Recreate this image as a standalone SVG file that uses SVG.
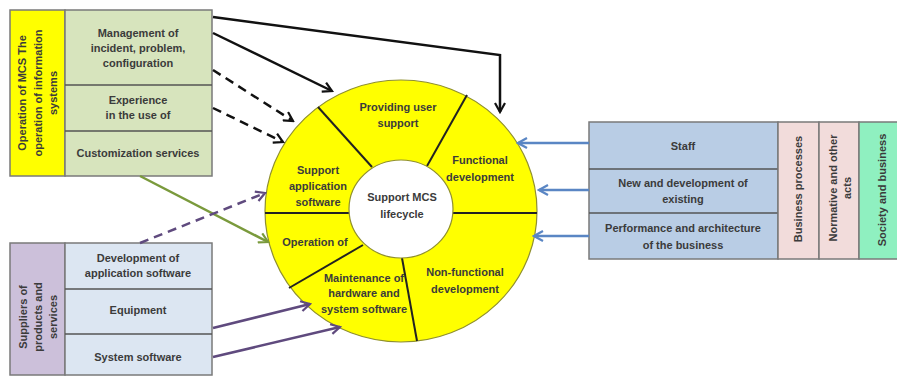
<svg xmlns="http://www.w3.org/2000/svg" width="897" height="377" viewBox="0 0 897 377">
<style>
text{font-family:"Liberation Sans",Arial,sans-serif;font-weight:bold;fill:#3b3b3b;text-anchor:middle}
.b{font-size:11px}
.c{font-size:11px}
.box{stroke:#7a7a7a;stroke-width:1.5}
.div{stroke:#555;stroke-width:1.5;fill:none}
.seg{stroke:#222;stroke-width:2;fill:none}
.blk{stroke:#111;stroke-width:2.5;fill:none}
.dash{stroke-dasharray:9 6}
.grn{stroke:#7a9a3c;stroke-width:2.5;fill:none}
.pur{stroke:#5f4a7e;stroke-width:2.5;fill:none}
.blu{stroke:#5a86c4;stroke-width:2.5;fill:none}
</style>
<defs>
<marker id="ak" viewBox="0 0 12 12" markerWidth="12" markerHeight="12" refX="10" refY="6" orient="auto" markerUnits="userSpaceOnUse"><path d="M1,1 L10,6 L1,11" fill="none" stroke="#111" stroke-width="2.2"/></marker>
<marker id="ag" viewBox="0 0 12 12" markerWidth="12" markerHeight="12" refX="10" refY="6" orient="auto" markerUnits="userSpaceOnUse"><path d="M1,1 L10,6 L1,11" fill="none" stroke="#7a9a3c" stroke-width="2.2"/></marker>
<marker id="ap" viewBox="0 0 12 12" markerWidth="12" markerHeight="12" refX="10" refY="6" orient="auto" markerUnits="userSpaceOnUse"><path d="M1,1 L10,6 L1,11" fill="none" stroke="#5f4a7e" stroke-width="2.2"/></marker>
<marker id="ab" viewBox="0 0 12 12" markerWidth="12" markerHeight="12" refX="10" refY="6" orient="auto" markerUnits="userSpaceOnUse"><path d="M1,1 L10,6 L1,11" fill="none" stroke="#5a86c4" stroke-width="2.2"/></marker>
</defs>
<rect width="897" height="377" fill="#fff"/>

<g id="operation-box">
<rect x="10" y="10" width="55" height="166" fill="#ffff00" class="box"/>
<rect x="65" y="10" width="147" height="166" fill="#d7e4bd" class="box"/>
<line x1="65" y1="85" x2="212" y2="85" class="div"/>
<line x1="65" y1="131" x2="212" y2="131" class="div"/>
<text class="b" transform="translate(26,93) rotate(-90)">Operation of MCS The</text>
<text class="b" transform="translate(41.5,93) rotate(-90)">operation of information</text>
<text class="b" transform="translate(57,93) rotate(-90)">systems</text>
<text class="b" x="138" y="37">Management of</text>
<text class="b" x="138" y="52">incident, problem,</text>
<text class="b" x="138" y="67">configuration</text>
<text class="b" x="138" y="104">Experience</text>
<text class="b" x="138" y="119">in the use of</text>
<text class="b" x="138" y="157">Customization services</text>
</g>

<g id="suppliers-box">
<rect x="10" y="243" width="55" height="132" fill="#ccc0da" class="box"/>
<rect x="65" y="243" width="147" height="132" fill="#dce6f2" class="box"/>
<line x1="65" y1="289" x2="212" y2="289" class="div"/>
<line x1="65" y1="334" x2="212" y2="334" class="div"/>
<text class="b" transform="translate(27,317) rotate(-90)">Suppliers of</text>
<text class="b" transform="translate(42,317) rotate(-90)">products and</text>
<text class="b" transform="translate(57,317) rotate(-90)">services</text>
<text class="b" x="138" y="262">Development of</text>
<text class="b" x="138" y="277">application  software</text>
<text class="b" x="138" y="314">Equipment</text>
<text class="b" x="138" y="361">System software</text>
</g>

<g id="business-box">
<rect x="589" y="122" width="189" height="137" fill="#b9cde5" class="box"/>
<line x1="589" y1="169" x2="778" y2="169" class="div"/>
<line x1="589" y1="213" x2="778" y2="213" class="div"/>
<rect x="778" y="122" width="41" height="137" fill="#f2dcdb" class="box"/>
<rect x="819" y="122" width="40" height="137" fill="#f2dcdb" class="box"/>
<rect x="859" y="122" width="40" height="137" fill="#8ff0c0" class="box"/>
<text class="b" x="683" y="150">Staff</text>
<text class="b" x="683" y="187">New and development of</text>
<text class="b" x="683" y="203">existing</text>
<text class="b" x="683" y="232">Performance and architecture</text>
<text class="b" x="683" y="249">of the business</text>
<text class="b" transform="translate(802,189) rotate(-90)">Business processes</text>
<text class="b" transform="translate(837,188) rotate(-90)">Normative and other</text>
<text class="b" transform="translate(851,188) rotate(-90)">acts</text>
<text class="b" transform="translate(886,190) rotate(-90)">Society and business</text>
</g>

<g id="lifecycle-circle">
<ellipse cx="401" cy="211" rx="136" ry="131" fill="#ffff00" stroke="#8f8f30" stroke-width="1.2"/>
<line x1="265" y1="213" x2="350" y2="213" class="seg"/>
<line x1="452" y1="213" x2="537" y2="213" class="seg"/>
<line x1="318" y1="107" x2="372" y2="167" class="seg"/>
<line x1="467" y1="95" x2="427" y2="166" class="seg"/>
<line x1="289" y1="288" x2="363" y2="245" class="seg"/>
<line x1="402" y1="258" x2="417" y2="341" class="seg"/>
<ellipse cx="401" cy="209" rx="52" ry="49" fill="#fff" stroke="#8f8f30" stroke-width="1.2"/>
<text class="c" x="398" y="111">Providing user</text>
<text class="c" x="398" y="127">support</text>
<text class="c" x="480" y="164">Functional</text>
<text class="c" x="480" y="181">development</text>
<text class="c" x="318" y="174">Support</text>
<text class="c" x="318" y="190">application</text>
<text class="c" x="318" y="206">software</text>
<text class="c" x="402" y="201">Support MCS</text>
<text class="c" x="402" y="218">lifecycle</text>
<text class="c" x="315" y="246">Operation of</text>
<text class="c" x="364" y="282">Maintenance of</text>
<text class="c" x="364" y="297">hardware and</text>
<text class="c" x="364" y="313">system software</text>
<text class="c" x="465" y="276">Non-functional</text>
<text class="c" x="465" y="293">development</text>
</g>

<g id="connectors">
<polyline points="213,17 500,55 500,112" class="blk" marker-end="url(#ak)"/>
<line x1="213" y1="33" x2="332" y2="91" class="blk" marker-end="url(#ak)"/>
<line x1="213" y1="70" x2="293" y2="121" class="blk dash" marker-end="url(#ak)"/>
<line x1="213" y1="108" x2="283" y2="142" class="blk dash" marker-end="url(#ak)"/>
<line x1="140" y1="176" x2="268" y2="242" class="grn" marker-end="url(#ag)"/>
<line x1="140" y1="243" x2="265" y2="193" class="pur dash" marker-end="url(#ap)"/>
<line x1="213" y1="328" x2="310" y2="304" class="pur" marker-end="url(#ap)"/>
<line x1="213" y1="357" x2="340" y2="327" class="pur" marker-end="url(#ap)"/>
<line x1="589" y1="143" x2="518" y2="143" class="blu" marker-end="url(#ab)"/>
<line x1="589" y1="190" x2="539" y2="190" class="blu" marker-end="url(#ab)"/>
<line x1="589" y1="236" x2="534" y2="236" class="blu" marker-end="url(#ab)"/>
</g>
</svg>
